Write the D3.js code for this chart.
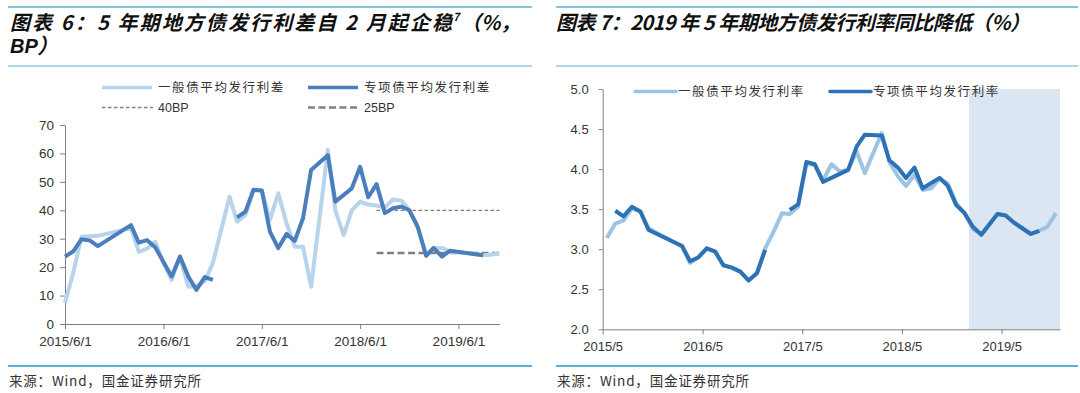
<!DOCTYPE html>
<html lang="zh-CN">
<head>
    <meta charset="UTF-8">
    <script src="https://cdn.jsdelivr.net/npm/d3@7"></script>
    <style>
        body { margin: 0; background: #fff; }
        svg text { font-family: "Liberation Sans", Arial, sans-serif; fill: #333; }
        svg text.cjk { font-family: "Noto Sans CJK SC", sans-serif; }
        .axis path, .axis line { stroke: #7f7f7f; }
    </style>
    <title>地方债发行利差与利率</title>
</head>
<body>
    <div id="chart"></div>

    <script>
        /*------------------- Data --------------------*/
        // 图表6: 5年期地方债发行利差 (BP), monthly
        const spreadGeneralMonths = ["2015-06","2015-07","2015-08","2015-10","2016-02","2016-03","2016-04","2016-05","2016-06","2016-07","2016-08","2016-09","2016-10","2016-11","2016-12","2017-02","2017-03","2017-04","2017-05","2017-06","2017-07","2017-08","2017-09","2017-10","2017-11","2017-12","2018-02","2018-03","2018-04","2018-05","2018-06","2018-07","2018-08","2018-09","2018-10","2018-11","2018-12","2019-01","2019-02","2019-03","2019-04","2019-05","2019-07","2019-09","2019-10","2019-11"];
        const spreadGeneralValues = [7.5,17.8,30.7,31.0,33.8,25.4,26.5,29.0,21.4,15.5,23.7,13.1,13.4,15.0,21.4,44.8,36.0,38.3,47.0,47.0,36.6,46.0,35.4,27.2,27.2,13.1,61.2,40.0,31.3,40.0,43.0,42.0,41.7,41.0,43.8,43.4,40.0,33.8,24.6,26.5,26.8,25.4,25.0,24.2,24.4,24.8];

        const spreadSpecialMonths = ["2015-06","2015-07","2015-08","2015-09","2015-10","2016-02","2016-03","2016-04","2016-05","2016-07","2016-08","2016-09","2016-10","2016-11","2016-12","2017-01","2017-03","2017-04","2017-05","2017-06","2017-07","2017-08","2017-09","2017-10","2017-11","2017-12","2018-02","2018-03","2018-05","2018-06","2018-07","2018-08","2018-09","2018-10","2018-11","2018-12","2019-01","2019-02","2019-03","2019-04","2019-05","2019-07","2019-09"];
        const spreadSpecialValues = [23.7,25.5,29.8,29.4,27.4,34.8,28.6,29.5,27.0,16.7,23.7,16.7,12.0,16.5,15.5,null,37.5,39.5,47.2,47.0,32.5,26.7,31.7,29.2,37.2,54.2,59.4,43.0,47.7,55.3,44.6,49.2,39.0,40.7,41.3,40.0,34.2,24.0,26.8,23.7,25.8,25.0,24.2];

        // reference lines 40BP / 25BP
        const refLineMonths = ["2018-08", "2019-11"];
        const refLineLabels = ["40BP", "25BP"];
        const refLineValues = [40, 25];

        const spreadTicks = [0, 10, 20, 30, 40, 50, 60, 70];
        const spreadDateTicks = ["2015-06","2016-06","2017-06","2018-06","2019-06"];

        // 图表7: 5年期地方债发行利率 (%), monthly
        const rateGeneralMonths = ["2015-05","2015-06","2015-07","2015-08","2015-09","2015-10","2016-02","2016-03","2016-04","2016-05","2016-06","2016-07","2016-08","2016-09","2016-10","2016-11","2016-12","2017-01","2017-02","2017-03","2017-04","2017-05","2017-06","2017-07","2017-08","2017-09","2017-10","2017-11","2017-12","2018-02","2018-03","2018-04","2018-05","2018-06","2018-07","2018-08","2018-09","2018-10","2018-11","2018-12","2019-01","2019-02","2019-04","2019-05","2019-06","2019-08","2019-09","2019-10","2019-11"];
        const rateGeneralValues = [3.14,3.32,3.36,3.51,3.47,3.26,3.03,2.83,2.90,3.01,2.97,2.80,2.77,2.72,2.61,2.70,3.01,3.22,3.45,3.44,3.53,4.07,4.05,3.86,4.06,3.97,3.99,4.22,3.95,4.45,4.09,3.91,3.79,3.93,3.74,3.76,3.88,3.82,3.57,3.46,3.25,3.19,3.44,3.42,3.33,3.19,3.23,3.28,3.45];

        const rateSpecialMonths = ["2015-06","2015-07","2015-08","2015-09","2015-10","2016-02","2016-03","2016-04","2016-05","2016-06","2016-07","2016-08","2016-09","2016-10","2016-11","2016-12","2017-01","2017-03","2017-04","2017-05","2017-06","2017-07","2017-10","2017-11","2017-12","2018-02","2018-03","2018-04","2018-05","2018-06","2018-07","2018-09","2018-10","2018-11","2018-12","2019-01","2019-02","2019-04","2019-05","2019-06","2019-08","2019-09"];
        const rateSpecialValues = [3.48,3.41,3.53,3.47,3.24,3.04,2.85,2.90,3.01,2.97,2.80,2.77,2.72,2.61,2.70,2.99,null,3.49,3.56,4.09,4.06,3.84,3.99,4.28,4.43,4.42,4.11,4.02,3.89,4.02,3.76,3.89,3.79,3.55,3.45,3.28,3.18,3.44,3.42,3.33,3.19,3.23];

        const rateTicks = [2.0, 2.5, 3.0, 3.5, 4.0, 4.5, 5.0];
        const rateDateTicks = ["2015-05","2016-05","2017-05","2018-05","2019-05"];
        const shadeMonths = ["2019-01", "2019-12"];

        /*------------------- Setup --------------------*/
        const parseMonth = d3.timeParse("%Y-%m");
        const zip = (months, values) => months.map((m, i) => ({ date: parseMonth(m), value: values[i] }));
        const ruleColor = "#5aafd8";

        const svg = d3.select("#chart").append("svg")
            .attr("width", 1080)
            .attr("height", 393);

        // header / footer rules and source lines for a panel
        const drawFrame = (x0, x1) => {
            svg.append("line").attr("x1", x0).attr("x2", x1).attr("y1", 7).attr("y2", 7)
                .attr("stroke", ruleColor).attr("stroke-width", 1.5);
            svg.append("line").attr("x1", x0).attr("x2", x1).attr("y1", 66).attr("y2", 66)
                .attr("stroke", ruleColor).attr("stroke-width", 1.2);
            svg.append("line").attr("x1", x0).attr("x2", x1).attr("y1", 366).attr("y2", 366)
                .attr("stroke", ruleColor).attr("stroke-width", 2.2);
            svg.append("text").attr("class", "cjk")
                .attr("x", x0 + 1).attr("y", 386)
                .attr("font-size", 13.5).attr("fill", "#333")
                .attr("textLength", 192).attr("lengthAdjust", "spacing")
                .text("来源：Wind，国金证券研究所");
        };

        // title as one text element, pieces as tspans
        const titleText = (x, y, parts) => {
            const t = svg.append("text").attr("class", "cjk")
                .attr("x", x).attr("y", y)
                .attr("font-size", 20).attr("font-weight", "bold").attr("font-style", "italic")
                .style("fill", "#111");
            parts.forEach(p => {
                const s = t.append("tspan").text(p.text);
                if (p.x != null) s.attr("x", p.x);
                if (p.y != null) s.attr("y", p.y);
                if (p.size) s.attr("font-size", p.size);
                if (p.font) s.style("font-family", p.font);
                if (p.len) s.attr("textLength", p.len).attr("lengthAdjust", "spacing");
            });
            return t;
        };

        const legendItem = (x, y, color, width, dash, label, cjk) => {
            svg.append("line").attr("x1", x).attr("x2", x + (cjk ? 50 : 51)).attr("y1", y).attr("y2", y)
                .attr("stroke", color).attr("stroke-width", width)
                .attr("stroke-dasharray", dash);
            svg.append("text").attr("class", cjk ? "cjk" : null)
                .attr("x", x + 56).attr("y", y + 4.5)
                .attr("font-size", 12.5)
                .attr("letter-spacing", cjk ? 1.6 : 0)
                .text(label);
        };

        /*------------------- 图表6 --------------------*/
        drawFrame(8, 532);
        titleText(10, 30, [
            { text: "图表 6：5 年期地方债发行利差自 2 月起企稳", len: 442 },
            { text: "7", x: 453, y: 21, size: 11 },
            { text: "（%，", x: 461, y: 30 }
        ]);
        // second title line kept in its own element
        titleText(10, 53, [
            { text: "BP", font: "'Liberation Sans', Arial, sans-serif" },
            { text: "）", font: "'Liberation Sans', Arial, sans-serif" }
        ]);

        const x1 = d3.scaleTime()
            .domain([parseMonth("2015-06"), parseMonth("2019-11")])
            .range([65, 499.6]);
        const y1 = d3.scaleLinear().domain([0, 70]).range([324, 125]);

        svg.append("g").attr("class", "axis")
            .attr("transform", "translate(0,324)")
            .call(d3.axisBottom(x1)
                .tickValues(spreadDateTicks.map(parseMonth))
                .tickFormat(d3.timeFormat("%Y/%-m/%-d"))
                .tickSize(5).tickPadding(7).tickSizeOuter(0))
            .call(g => g.selectAll("text").attr("font-size", 13.5).style("fill", "#333"));

        svg.append("g").attr("class", "axis")
            .attr("transform", "translate(65,0)")
            .call(d3.axisLeft(y1).tickValues(spreadTicks).tickSize(5).tickPadding(6).tickSizeOuter(0))
            .call(g => g.selectAll("text").attr("font-size", 13.5).style("fill", "#333"));

        // reference dashed lines
        refLineValues.forEach((v, i) => {
            svg.append("line")
                .attr("x1", x1(parseMonth(refLineMonths[0]))).attr("x2", x1(parseMonth(refLineMonths[1])))
                .attr("y1", y1(v)).attr("y2", y1(v))
                .attr("stroke", "#808080")
                .attr("stroke-width", i === 0 ? 1.3 : 2.6)
                .attr("stroke-dasharray", i === 0 ? "3.5,2.5" : "7,3.5");
        });

        const line1 = d3.line()
            .defined(d => d.value != null)
            .x(d => x1(d.date))
            .y(d => y1(d.value));

        svg.append("path").datum(zip(spreadGeneralMonths, spreadGeneralValues))
            .attr("d", line1).attr("fill", "none")
            .attr("stroke", "#b8d3ec").attr("stroke-width", 4).attr("stroke-linejoin", "round");
        svg.append("path").datum(zip(spreadSpecialMonths, spreadSpecialValues))
            .attr("d", line1).attr("fill", "none")
            .attr("stroke", "#4a7ebd").attr("stroke-width", 4).attr("stroke-linejoin", "round");

        legendItem(102, 87.5, "#b8d3ec", 3.5, null, "一般债平均发行利差", true);
        legendItem(308, 87.5, "#4a7ebd", 3.5, null, "专项债平均发行利差", true);
        legendItem(102, 107.5, "#808080", 1.3, "3.5,2.5", refLineLabels[0], false);
        legendItem(308, 107.5, "#808080", 2.6, "7,3.5", refLineLabels[1], false);

        /*------------------- 图表7 --------------------*/
        drawFrame(556, 1078);
        titleText(556, 30, [{ text: "图表 7：2019 年 5 年期地方债发行利率同比降低（%）", len: 474 }]);

        const x2 = d3.scaleTime()
            .domain([parseMonth("2015-05"), parseMonth("2019-12")])
            .range([602.7, 1060]);
        const y2 = d3.scaleLinear().domain([2, 5]).range([329.3, 89]);
        // points sit in the middle of each month
        const mid = d => d3.timeDay.offset(d, 15);

        svg.append("rect")
            .attr("x", x2(parseMonth(shadeMonths[0])))
            .attr("y", y2(5))
            .attr("width", x2(parseMonth(shadeMonths[1])) - x2(parseMonth(shadeMonths[0])))
            .attr("height", y2(2) - y2(5))
            .attr("fill", "#dce6f2");

        svg.append("g").attr("class", "axis")
            .attr("transform", "translate(0,329.3)")
            .call(d3.axisBottom(x2)
                .tickValues(rateDateTicks.map(parseMonth))
                .tickFormat(d3.timeFormat("%Y/%-m"))
                .tickSize(5).tickPadding(7).tickSizeOuter(0))
            .call(g => g.selectAll("text").attr("font-size", 13).style("fill", "#333"));

        svg.append("g").attr("class", "axis")
            .attr("transform", "translate(602.7,0)")
            .call(d3.axisLeft(y2).tickValues(rateTicks).tickFormat(d3.format(".1f"))
                .tickSize(4).tickPadding(10).tickSizeOuter(0))
            .call(g => g.selectAll("text").attr("font-size", 13).style("fill", "#333"));

        const line2 = d3.line()
            .defined(d => d.value != null)
            .x(d => x2(mid(d.date)))
            .y(d => y2(d.value));

        svg.append("path").datum(zip(rateGeneralMonths, rateGeneralValues))
            .attr("d", line2).attr("fill", "none")
            .attr("stroke", "#9dc3e6").attr("stroke-width", 4).attr("stroke-linejoin", "round");
        svg.append("path").datum(zip(rateSpecialMonths, rateSpecialValues))
            .attr("d", line2).attr("fill", "none")
            .attr("stroke", "#2e72b6").attr("stroke-width", 4).attr("stroke-linejoin", "round");

        // legend (over the plot)
        [["一般债平均发行利率", "#9dc3e6", 635], ["专项债平均发行利率", "#2e72b6", 830]].forEach(([label, color, lx]) => {
            svg.append("line").attr("x1", lx).attr("x2", lx + 41).attr("y1", 91.5).attr("y2", 91.5)
                .attr("stroke", color).attr("stroke-width", 3.5).attr("stroke-linecap", "round");
            svg.append("text").attr("class", "cjk")
                .attr("x", lx + 43).attr("y", 96)
                .attr("font-size", 12.5).attr("letter-spacing", 1.6)
                .text(label);
        });
    </script>
</body>
</html>
